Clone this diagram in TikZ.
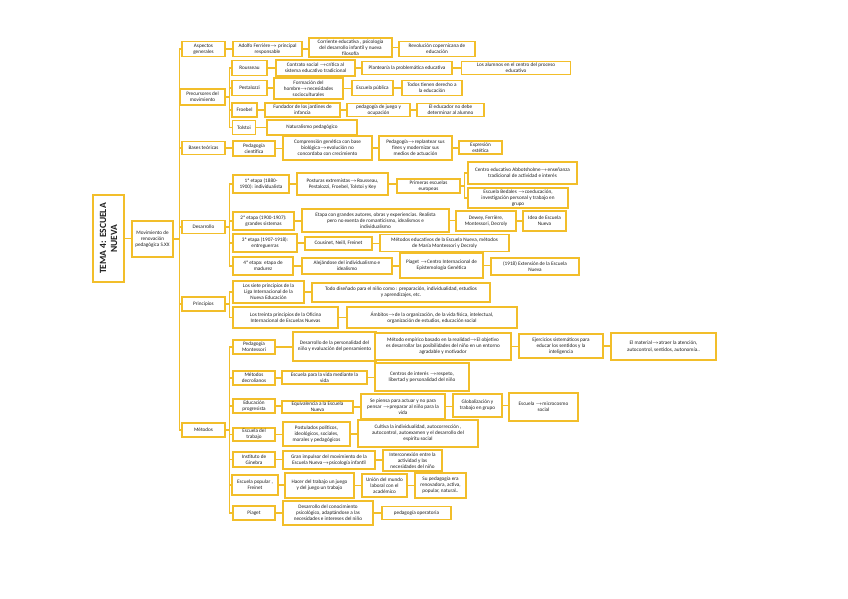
\documentclass[tikz,border=0pt]{standalone}
\usepackage{fontspec}
\setmainfont{Carlito}
\usetikzlibrary{positioning}
\definecolor{oro}{RGB}{242,190,42}
\definecolor{tinta}{RGB}{30,30,30}
\newcommand{\flecha}{\ensuremath{\rightarrow}}

\begin{document}
\begin{tikzpicture}[
  x=1pt, y=-1pt,
  every node/.style={font=\fontsize{5.2}{6.1}\selectfont, align=center, text=tinta},
  box/.style={rectangle, draw=oro, line width=1.5pt, fill=white, inner xsep=1pt, inner ysep=0.5pt},
  sz/.style 2 args={minimum width=#1pt, minimum height=#2pt},
  link/.style={draw=oro, line width=1.4pt}
]
\useasboundingbox (0,0) rectangle (848,599);
\fill[white] (0,0) rectangle (848,599);

% raiz
\node[box, sz={87}{31}, rotate=90, font=\bfseries\fontsize{9.5}{11}\selectfont] (tema) at (108.5,238.5) {TEMA 4: ESCUELA\\NUEVA};
\node[box, sz={41}{36}] (mov) at (152.5,239) {Movimiento de\\renovación\\pedagógica S.XX};

% primer nivel
\node[box, sz={43}{15}] (asp) at (203.5,49) {Aspectos\\generales};
\node[box, sz={45}{16}] (prec) at (202.5,97) {Precursores del\\movimiento};
\node[box, sz={43}{13}] (bases) at (203.5,148) {Bases teóricas};
\node[box, sz={43}{13}] (desa) at (203.5,227) {Desarrollo};
\node[box, sz={43}{14}] (prin) at (203.5,304) {Principios};
\node[box, sz={43}{14}] (meto) at (203.5,430) {Métodos};

% aspectos generales
\node[box, sz={69}{15}] (ferr) at (267.5,49) {Adolfo Ferrière\flecha{} principal\\responsable};
\node[box, sz={83}{19}] (corr) at (350.5,47.5) {Corriente educativa , psicología\\del desarrollo infantil y nueva\\filosofía};
\node[box, sz={76}{15}] (revo) at (437,49) {Revolución copernicana de\\educación};

% precursores
\node[box, sz={35}{15}] (rous) at (249.5,68) {Rousseau};
\node[box, sz={79}{16}] (cont) at (315.5,68) {Contrato social \flecha crítica al\\sistema educativo tradicional};
\node[box, sz={90}{13}] (plan) at (407,68) {Plantearía la problemática educativa};
\node[box, sz={109}{13}] (alum) at (516,68) {Los alumnos en el centro del proceso\\educativo};
\node[box, sz={35}{15}] (pest) at (249.5,88) {Pestalozzi};
\node[box, sz={69}{21}] (form) at (308.5,88.5) {Formación del\\hombre\flecha necesidades\\socioculturales};
\node[box, sz={41}{15}] (escp) at (372.5,88) {Escuela pública};
\node[box, sz={60}{15}] (todo) at (432,88) {Todos tienen derecho a\\la educación};
\node[box, sz={25}{14}] (froe) at (244.5,110) {Froebel};
\node[box, sz={75}{14}] (fund) at (302.5,110) {Fundador de los jardines de\\infancia};
\node[box, sz={63}{13}] (jueg) at (378.5,110) {pedagogía de juego y\\ocupación};
\node[box, sz={67}{13}] (educ) at (450.5,110) {El educador no debe\\determinar al alumno};
\node[box, sz={23}{14}] (tols) at (244,127.5) {Tolstoi};
\node[box, sz={90}{15}] (natu) at (312,127.5) {Naturalismo pedagógico};

% bases teoricas
\node[box, sz={42}{15}] (cien) at (254,148.5) {Pedagogía\\científica};
\node[box, sz={89}{24}] (comp) at (327.5,148) {Comprensión genética con base\\biológica\flecha evolución no\\concordaba con crecimiento};
\node[box, sz={73}{24}] (repl) at (415.5,148) {Pedagogía\flecha replantear sus\\fines y modernizar sus\\medios de actuación};
\node[box, sz={43}{13}] (este) at (480.5,147.5) {Expresión\\estética};

% desarrollo
\node[box, sz={56}{18}] (eta1) at (261,184) {1ª etapa (1880-\\1900): individualista};
\node[box, sz={91}{22}] (post) at (342.5,184) {Posturas extremistas\flecha Rousseau,\\Pestalozzi, Froebel, Tolstoi y Key};
\node[box, sz={63}{14}] (prim) at (428.5,186) {Primeras escuelas\\europeas};
\node[box, sz={109}{22}] (abbo) at (522.5,173) {Centro educativo Abbotsholme\flecha enseñanza\\tradicional de actividad e interés};
\node[box, sz={100}{20}] (beda) at (518,198) {Escuela Bedales \flecha coeducación,\\investigación personal y trabajo en\\grupo};
\node[box, sz={61}{18}] (eta2) at (263.5,221) {2ª etapa (1900-1907):\\grandes sistemas};
\node[box, sz={147}{23}] (auto) at (375.5,220.5) {Etapa con grandes autores, obras y experiencias. Realista\\pero no exenta de romanticismo, idealismos e\\individualismo};
\node[box, sz={60}{20}] (dewe) at (486,221) {Dewey, Ferrière,\\Montessori, Decroly};
\node[box, sz={43}{20}] (idea) at (544.5,221) {Idea de Escuela\\Nueva};
\node[box, sz={64}{18}] (eta3) at (265,243) {3ª etapa (1907-1918):\\entreguerras};
\node[box, sz={67}{13}] (cous) at (338.5,243.5) {Cousinet, Neill, Freinet};
\node[box, sz={129}{17}] (mont) at (444.5,243) {Métodos educativos de la Escuela Nueva, métodos\\de María Montessori y Decroly};
\node[box, sz={60}{18}] (eta4) at (263,266) {4ª etapa: etapa de\\madurez};
\node[box, sz={90}{16}] (alej) at (347,266) {Alejándose del individualismo e\\idealismo};
\node[box, sz={83}{25}] (piag) at (441.5,265.5) {Piaget \flecha Centro Internacional de\\Epistemología Genética};
\node[box, sz={88}{17}] (exte) at (535,266.5) {(1918) Extensión de la Escuela\\Nueva};

% principios
\node[box, sz={71}{22}] (siet) at (268.5,292) {Los siete principios de la\\Liga Internacional de la\\Nueva Educación};
\node[box, sz={178}{19}] (tdis) at (401,292.5) {Todo diseñado para el niño como : preparación, individualidad, estudios\\y aprendizajes, etc.};
\node[box, sz={105}{21}] (trei) at (285.5,317.5) {Los treinta principios de la Oficina\\Internacional de Escuelas Nuevas};
\node[box, sz={170}{21}] (ambi) at (432,317.5) {Ámbitos\flecha de la organización, de la vida física, intelectual,\\organización de estudios, educación social};

% metodos
\node[box, sz={42}{14}] (pmon) at (254,347) {Pedagogía\\Montessori};
\node[box, sz={83}{29}] (dper) at (334.5,346.5) {Desarrollo de la personalidad del\\niño y evaluación del pensamiento};
\node[box, sz={136}{27}] (memp) at (443,346.5) {Método empírico basado en la realidad\flecha El objetivo\\es desarrollar las posibilidades del niño en un entorno\\agradable y motivador};
\node[box, sz={84}{24}] (ejer) at (561,346) {Ejercicios sistemáticos para\\educar los sentidos y la\\inteligencia};
\node[box, sz={105}{27}] (mate) at (663.5,346.5) {El material\flecha atraer la atención,\\autocontrol, sentidos, autonomía..};
\node[box, sz={42}{14}] (mdec) at (254,378) {Métodos\\decrolianos};
\node[box, sz={85}{13}] (evid) at (324.5,377.5) {Escuela para la vida mediante la\\vida};
\node[box, sz={94}{28}] (cent) at (422,377) {Centros de interés \flecha respeto,\\libertad y personalidad del niño};
\node[box, sz={42}{14}] (epro) at (254,406) {Educación\\progresista};
\node[box, sz={71}{12}] (equi) at (317.5,407) {Equivalencia a la Escuela\\Nueva};
\node[box, sz={84}{25}] (spie) at (403,406.5) {Se piensa para actuar y no para\\pensar \flecha preparar al niño para la\\vida};
\node[box, sz={49}{23}] (glob) at (477.5,405.5) {Globalización y\\trabajo en grupo};
\node[box, sz={69}{28}] (micr) at (543.5,407) {Escuela \flecha microcosmo\\social};
\node[box, sz={42}{13}] (etra) at (254,434.5) {Escuela del\\trabajo};
\node[box, sz={67}{24}] (pol) at (316.5,434) {Postulados políticos,\\ideológicos, sociales,\\morales y pedagógicos};
\node[box, sz={120}{27}] (cult) at (418,433.5) {Cultiva la individualidad, autocorrección ,\\autocontrol, autoexamen y el desarrollo del\\espíritu social};
\node[box, sz={42}{15}] (gine) at (254,459.5) {Instituto de\\Ginebra};
\node[box, sz={92}{18}] (gran) at (329,460) {Gran impulsor del movimiento de la\\Escuela Nueva\flecha psicología infantil};
\node[box, sz={59}{21}] (inte) at (412.5,460.5) {Interconexión entre la\\actividad y las\\necesidades del niño};
\node[box, sz={46}{20}] (epop) at (255,485) {Escuela popular ,\\Freinet};
\node[box, sz={69}{25}] (hace) at (319.5,485.5) {Hacer del trabajo un juego\\y del juego un trabajo};
\node[box, sz={45}{23}] (unio) at (384.5,485.5) {Unión del mundo\\laboral con el\\académico};
\node[box, sz={51}{25}] (supe) at (440.5,485.5) {Su pedagogía era\\renovadora, activa,\\popular, natural..};
\node[box, sz={42}{14}] (jpia) at (254,513) {Piaget};
\node[box, sz={90}{24}] (dcon) at (328,513) {Desarrollo del conocimiento\\psicológico, adaptándose a las\\necesidades e intereses del niño};
\node[box, sz={69}{13}] (oper) at (416.5,513) {pedagogía operatoria};

% conectores
\draw[link] (tema.south) -- (tema.south -| mov.west);
\draw[link] (mov.east) -- ++(5.5,0) |- (asp.west);
\draw[link] (mov.east) -- ++(5.5,0) |- (prec.west);
\draw[link] (mov.east) -- ++(5.5,0) |- (bases.west);
\draw[link] (mov.east) -- ++(5.5,0) |- (desa.west);
\draw[link] (mov.east) -- ++(5.5,0) |- (prin.west);
\draw[link] (mov.east) -- ++(5.5,0) |- (meto.west);

\draw[link] (asp.east) -- (asp.east -| ferr.west);
\draw[link] (ferr.east) -- (ferr.east -| corr.west);
\draw[link] (corr.east) -- (corr.east -| revo.west);

\draw[link] (prec.east) -- ++(3.5,0) |- (rous.west);
\draw[link] (prec.east) -- ++(3.5,0) |- (pest.west);
\draw[link] (prec.east) -- ++(3.5,0) |- (froe.west);
\draw[link] (prec.east) -- ++(3.5,0) |- (tols.west);
\draw[link] (rous.east) -- (rous.east -| cont.west);
\draw[link] (cont.east) -- (cont.east -| plan.west);
\draw[link] (plan.east) -- (plan.east -| alum.west);
\draw[link] (pest.east) -- (pest.east -| form.west);
\draw[link] (form.east) -- (form.east -| escp.west);
\draw[link] (escp.east) -- (escp.east -| todo.west);
\draw[link] (froe.east) -- (froe.east -| fund.west);
\draw[link] (fund.east) -- (fund.east -| jueg.west);
\draw[link] (jueg.east) -- (jueg.east -| educ.west);
\draw[link] (tols.east) -- (tols.east -| natu.west);

\draw[link] (bases.east) -- (bases.east -| cien.west);
\draw[link] (cien.east) -- (cien.east -| comp.west);
\draw[link] (comp.east) -- (comp.east -| repl.west);
\draw[link] (repl.east) -- (repl.east -| este.west);

\draw[link] (desa.east) -- ++(3.5,0) |- (eta1.west);
\draw[link] (desa.east) -- ++(3.5,0) |- (eta2.west);
\draw[link] (desa.east) -- ++(3.5,0) |- (eta3.west);
\draw[link] (desa.east) -- ++(3.5,0) |- (eta4.west);
\draw[link] (eta1.east) -- (eta1.east -| post.west);
\draw[link] (post.east) -- (post.east -| prim.west);
\draw[link] (prim.east) -- ++(3.5,0) |- (abbo.west);
\draw[link] (prim.east) -- ++(3.5,0) |- (beda.west);
\draw[link] (eta2.east) -- (eta2.east -| auto.west);
\draw[link] (auto.east) -- (auto.east -| dewe.west);
\draw[link] (dewe.east) -- (dewe.east -| idea.west);
\draw[link] (eta3.east) -- (eta3.east -| cous.west);
\draw[link] (cous.east) -- (cous.east -| mont.west);
\draw[link] (eta4.east) -- (eta4.east -| alej.west);
\draw[link] (alej.east) -- (alej.east -| piag.west);
\draw[link] (piag.east) -- (piag.east -| exte.west);

\draw[link] (prin.east) -- ++(3.5,0) |- (siet.west);
\draw[link] (prin.east) -- ++(3.5,0) |- (trei.west);
\draw[link] (siet.east) -- (siet.east -| tdis.west);
\draw[link] (trei.east) -- (trei.east -| ambi.west);

\draw[link] (meto.east) -- ++(3.5,0) |- (pmon.west);
\draw[link] (meto.east) -- ++(3.5,0) |- (mdec.west);
\draw[link] (meto.east) -- ++(3.5,0) |- (epro.west);
\draw[link] (meto.east) -- ++(3.5,0) |- (etra.west);
\draw[link] (meto.east) -- ++(3.5,0) |- (gine.west);
\draw[link] (meto.east) -- ++(3.5,0) |- (epop.west);
\draw[link] (meto.east) -- ++(3.5,0) |- (jpia.west);
\draw[link] (pmon.east) -- (pmon.east -| dper.west);
\draw[link] (memp.east) -- (memp.east -| ejer.west);
\draw[link] (ejer.east) -- (ejer.east -| mate.west);
\draw[link] (mdec.east) -- (mdec.east -| evid.west);
\draw[link] (evid.east) -- (evid.east -| cent.west);
\draw[link] (epro.east) -- (epro.east -| equi.west);
\draw[link] (equi.east) -- (equi.east -| spie.west);
\draw[link] (spie.east) -- (spie.east -| glob.west);
\draw[link] (glob.east) -- (glob.east -| micr.west);
\draw[link] (etra.east) -- (etra.east -| pol.west);
\draw[link] (pol.east) -- (pol.east -| cult.west);
\draw[link] (gine.east) -- (gine.east -| gran.west);
\draw[link] (gran.east) -- (gran.east -| inte.west);
\draw[link] (epop.east) -- (epop.east -| hace.west);
\draw[link] (hace.east) -- (hace.east -| unio.west);
\draw[link] (unio.east) -- (unio.east -| supe.west);
\draw[link] (jpia.east) -- (jpia.east -| dcon.west);
\draw[link] (dcon.east) -- (dcon.east -| oper.west);
\end{tikzpicture}
\end{document}
